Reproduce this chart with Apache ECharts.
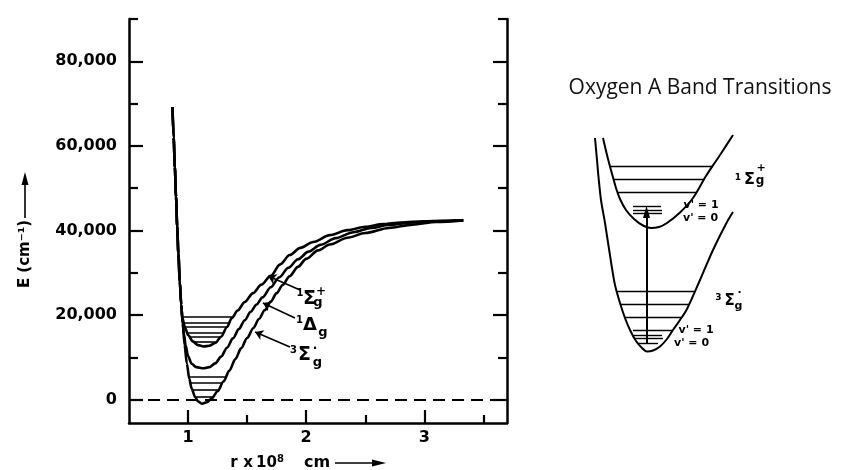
<!DOCTYPE html>
<html>
<head>
<meta charset="utf-8">
<script src="https://cdn.jsdelivr.net/npm/echarts@6/dist/echarts.min.js"></script>
<style>
  html, body { margin: 0; padding: 0; background: #fff; }
  #chart { width: 845px; height: 470px; }
</style>
</head>
<body>
<div id="chart"></div>
<script>
// O2 potential energy curves: r in units of 1e-8 cm, E in cm^-1
const groundState = [ // X 3Σg-
  [0.868, 69200], [0.878, 62000], [0.888, 55000], [0.898, 48000], [0.908, 41000],
  [0.918, 34500], [0.930, 28000], [0.942, 22500], [0.955, 18000], [0.970, 13000],
  [0.990, 8500], [1.010, 5000], [1.030, 2700], [1.060, 600], [1.085, -400],
  [1.116, -940], [1.160, -600], [1.200, 300], [1.250, 2000], [1.300, 4300],
  [1.350, 6900], [1.400, 9600], [1.450, 12200], [1.500, 14600], [1.552, 16900],
  [1.600, 19100], [1.650, 21200], [1.700, 23200], [1.750, 25200], [1.800, 27100],
  [1.860, 29200], [1.930, 31400], [2.000, 33300], [2.100, 35300], [2.200, 36700],
  [2.350, 38300], [2.500, 39400], [2.700, 40600], [2.900, 41400], [3.100, 42000],
  [3.330, 42400]
];
const deltaState = [ // a 1Δg
  [0.868, 69200], [0.878, 62000], [0.888, 55000], [0.898, 48000], [0.908, 41000],
  [0.918, 34500], [0.930, 28000], [0.942, 22500], [0.955, 18000], [0.965, 15500],
  [0.980, 12800], [1.000, 10300], [1.030, 8500], [1.070, 7700], [1.130, 7450],
  [1.180, 7700], [1.230, 8600], [1.280, 10200], [1.330, 12300], [1.380, 14500],
  [1.430, 16700], [1.480, 18800], [1.530, 20800], [1.580, 22500], [1.630, 24200],
  [1.700, 26600], [1.770, 28900], [1.850, 31200], [1.930, 33200], [2.020, 35000],
  [2.120, 36600], [2.250, 38200], [2.400, 39600], [2.550, 40600], [2.700, 41300],
  [2.900, 41900], [3.100, 42200], [3.330, 42400]
];
const sigmaState = [ // b 1Σg+
  [0.868, 69200], [0.878, 62000], [0.888, 55000], [0.898, 48000], [0.908, 41000],
  [0.918, 34500], [0.930, 28000], [0.942, 22500], [0.950, 19500], [0.975, 17000],
  [1.000, 15300], [1.040, 13800], [1.085, 12900], [1.130, 12600], [1.180, 12750],
  [1.230, 13400], [1.280, 14900], [1.330, 17200], [1.370, 19300], [1.420, 21100],
  [1.480, 23100], [1.550, 25200], [1.620, 27200], [1.700, 29300], [1.780, 32000],
  [1.860, 34200], [1.950, 35900], [2.060, 37300], [2.200, 38900], [2.350, 40100],
  [2.500, 40900], [2.650, 41500], [2.800, 41900], [3.000, 42200], [3.150, 42300],
  [3.330, 42400]
];
const groundLevels = [800, 2400, 3900, 5400];
const sigmaLevels = [13800, 14950, 15900, 17150, 18250, 19500];

const xMajorTicks = [1, 2, 3];
const xMinorTicks = [1.5, 2.5, 3.5];
const yMajorTicks = [0, 20000, 40000, 60000, 80000];
const yMinorTicks = [10000, 30000, 50000, 70000, 90000];

// term-symbol pointers: [label end, curve end] as [r, E]
const pointerSigma = [[1.948, 25930], [1.677, 29240]];
const pointerDelta = [[1.905, 19310], [1.634, 22860]];
const pointerGround = [[1.863, 12460], [1.567, 16000]];

// A-band sketch (arbitrary distance / energy units)
const bandUpper = [
  [23, 222], [27, 205], [31.5, 188], [36, 172], [40, 161], [46, 150], [54, 141],
  [63, 134.5], [71, 132], [79, 133], [87, 137], [100, 147.5], [113, 162],
  [126, 184], [140, 205], [153, 225]
];
const bandLower = [
  [15, 222], [17, 200], [18.5, 183], [21, 160], [25, 137], [31.5, 95], [35, 75],
  [40, 57], [45, 42], [50, 30], [56, 19], [62, 12], [67, 8.5], [73, 9.5],
  [80, 13.5], [87, 21], [93, 30], [100, 40], [107, 51], [120, 80], [133, 110],
  [147, 138], [153, 148]
];
const bandUpperLevels = [194, 180.5, 167.5];
const bandLowerLevels = [68.3, 56, 42.7];
const bandUpperShort = [[53, 81, 154], [53, 82, 150], [53, 82, 146.5]];
const bandLowerShort = [[53, 93, 30], [53, 82, 25], [55, 83, 21.7], [58, 78, 16.7]];
const bandTransition = [[66.5, 17], [66.5, 148]];

// where a horizontal level meets the two walls of a well
function chord(curve, level) {
  let iMin = 0;
  curve.forEach((p, i) => { if (p[1] < curve[iMin][1]) iMin = i; });
  const cross = (a, b) => a[0] + (level - a[1]) * (b[0] - a[0]) / (b[1] - a[1]);
  let left = null, right = null;
  for (let i = 0; i < iMin; i++) {
    const a = curve[i], b = curve[i + 1];
    if ((a[1] - level) * (b[1] - level) <= 0) left = cross(a, b);
  }
  for (let i = iMin; i < curve.length - 1; i++) {
    const a = curve[i], b = curve[i + 1];
    if (right === null && (a[1] - level) * (b[1] - level) <= 0) right = cross(a, b);
  }
  return [left, right];
}
const levelLines = (curve, levels) => levels.map(E => {
  const [l, r] = chord(curve, E);
  return [{ coord: [l, E] }, { coord: [r, E] }];
});
const segLines = segs => segs.map(s => [{ coord: [s[0], s[2]] }, { coord: [s[1], s[2]] }]);

const INK = '#000';
const BOLD = 'DejaVu Sans';
const yMin = -5500, yMax = 90000, xMin = 0.5, xMax = 3.7;

function tickAxisY(pos, ticks, len, showLine, showLabel) {
  return {
    type: 'value', gridIndex: 0, position: pos, min: yMin, max: yMax,
    axisLine: { show: showLine, onZero: false, lineStyle: { color: INK, width: 2.5 } },
    axisTick: { show: true, inside: true, length: len, customValues: ticks,
      lineStyle: { color: INK, width: 2.2 } },
    axisLabel: { show: showLabel, customValues: ticks, margin: 12,
      color: INK, fontFamily: BOLD, fontWeight: 'bold', fontSize: 16,
      formatter: v => v.toLocaleString('en-US') },
    splitLine: { show: false }
  };
}
function tickAxisX(ticks, len, showLine, showLabel) {
  return {
    type: 'value', gridIndex: 0, position: 'bottom', min: xMin, max: xMax,
    axisLine: { show: showLine, onZero: false, lineStyle: { color: INK, width: 2.5 } },
    axisTick: { show: true, inside: true, length: len, customValues: ticks,
      lineStyle: { color: INK, width: 2.2 } },
    axisLabel: { show: showLabel, customValues: ticks, margin: 7,
      color: INK, fontFamily: BOLD, fontWeight: 'bold', fontSize: 16 },
    splitLine: { show: false }
  };
}

const curveLine = { color: INK, width: 2.6 };
const plain = { show: false };

const option = {
  animation: false,
  backgroundColor: '#fff',
  grid: [
    { left: 129, top: 19, width: 378, height: 404 },
    { left: 580, top: 130, width: 170, height: 230 }
  ],
  xAxis: [
    tickAxisX(xMajorTicks, 13, true, true),
    tickAxisX(xMinorTicks, 8, false, false),
    { type: 'value', gridIndex: 1, min: 0, max: 170, show: false }
  ],
  yAxis: [
    tickAxisY('left', yMajorTicks, 14, true, true),
    tickAxisY('left', yMinorTicks, 9, false, false),
    tickAxisY('right', yMajorTicks, 14, true, false),
    tickAxisY('right', yMinorTicks, 9, false, false),
    { type: 'value', gridIndex: 1, min: 0, max: 230, show: false }
  ],
  series: [
    {
      name: '3Σg-', type: 'line', xAxisIndex: 0, yAxisIndex: 0, data: groundState,
      showSymbol: false, smooth: 0.3, smoothMonotone: 'x', lineStyle: curveLine, silent: true,
      markLine: {
        silent: true, symbol: ['none', 'none'], label: plain,
        lineStyle: { color: INK, width: 1.6, type: 'solid' },
        data: [[{ coord: [xMin, 0] }, { coord: [xMax, 0],
          lineStyle: { type: [12, 7], width: 2 } }]]
          .concat(levelLines(groundState, groundLevels))
      }
    },
    {
      name: '1Δg', type: 'line', xAxisIndex: 0, yAxisIndex: 0, data: deltaState,
      showSymbol: false, smooth: 0.3, smoothMonotone: 'x', lineStyle: curveLine, silent: true,
      markLine: {
        silent: true, symbol: ['none', 'arrow'], symbolSize: 8, label: plain,
        lineStyle: { color: INK, width: 1.6, type: 'solid' },
        data: [pointerSigma, pointerDelta, pointerGround].map(p =>
          [{ coord: p[0] }, { coord: p[1] }])
      }
    },
    {
      name: '1Σg+', type: 'line', xAxisIndex: 0, yAxisIndex: 0, data: sigmaState,
      showSymbol: false, smooth: 0.3, smoothMonotone: 'x', lineStyle: curveLine, silent: true,
      markLine: {
        silent: true, symbol: ['none', 'none'], label: plain,
        lineStyle: { color: INK, width: 1.6, type: 'solid' },
        data: levelLines(sigmaState, sigmaLevels)
      }
    },
    {
      name: 'upper', type: 'line', xAxisIndex: 2, yAxisIndex: 4, data: bandUpper,
      showSymbol: false, smooth: 0.3, lineStyle: { color: INK, width: 2 }, silent: true,
      markLine: {
        silent: true, symbol: ['none', 'none'], label: plain,
        lineStyle: { color: INK, width: 1.4, type: 'solid' },
        data: levelLines(bandUpper, bandUpperLevels).concat(segLines(bandUpperShort))
      }
    },
    {
      name: 'lower', type: 'line', xAxisIndex: 2, yAxisIndex: 4, data: bandLower,
      showSymbol: false, smooth: 0.3, lineStyle: { color: INK, width: 2 }, silent: true,
      markLine: {
        silent: true, symbol: ['none', 'none'], label: plain,
        lineStyle: { color: INK, width: 1.4, type: 'solid' },
        data: levelLines(bandLower, bandLowerLevels).concat(segLines(bandLowerShort))
          .concat([[{ coord: bandTransition[0] },
            { coord: bandTransition[1], symbol: 'triangle', symbolSize: [7, 12], symbolRotate: 0,
              lineStyle: { width: 2 } }]])
      }
    }
  ],
  graphic: []
};

// text pieces: [text, centre x, centre y, size]
const termPieces = [
  ['1', 300, 293.5, 10], ['Σ', 309.5, 299.5, 19], ['+', 321, 292, 12], ['g', 318, 302.5, 13],
  ['1', 299.5, 320, 10], ['Δ', 310, 325.5, 18], ['g', 323, 332.5, 13],
  ['3', 293.5, 350, 10], ['Σ', 304.5, 355.5, 19], ['·', 315, 348.5, 12], ['g', 317.5, 363, 13],
  ['1', 738, 177.5, 9], ['Σ', 749.5, 180, 16], ['+', 761, 168.5, 11], ['g', 760, 181, 12],
  ['3', 718.5, 297.5, 9], ['Σ', 729.5, 301, 15], ['·', 739.5, 293.5, 11], ['g', 738.5, 306, 11],
  ["v' = 1", 701, 205, 11], ["v' = 0", 700.5, 218, 11],
  ["v' = 1", 696, 330, 11], ["v' = 0", 691.5, 343, 11],
  // distance axis name
  ['r', 234, 463, 15], ['x', 248, 463, 15], ['10', 266.5, 463, 15], ['8', 280.5, 459, 10],
  ['cm', 317, 463, 16]
];
termPieces.forEach(p => option.graphic.push({
  type: 'text', x: p[1], y: p[2], silent: true,
  style: { text: p[0], fill: INK, font: 'bold ' + p[3] + 'px "' + BOLD + '"',
    textAlign: 'center', textVerticalAlign: 'middle' }
}));

// axis-name arrows, energy axis name and the sketch title
option.graphic.push(
  { type: 'line', silent: true, shape: { x1: 335, y1: 463, x2: 375, y2: 463 },
    style: { stroke: INK, lineWidth: 1.6 } },
  { type: 'polygon', silent: true, shape: { points: [[386, 463], [372, 459.5], [372, 466.5]] },
    style: { fill: INK } },
  { type: 'text', x: 25, y: 254, rotation: Math.PI / 2, silent: true,
    style: { text: 'E (cm⁻¹)', fill: INK, font: 'bold 15px "' + BOLD + '"',
      textAlign: 'center', textVerticalAlign: 'middle' } },
  { type: 'line', silent: true, shape: { x1: 25, y1: 218, x2: 25, y2: 182 },
    style: { stroke: INK, lineWidth: 1.6 } },
  { type: 'polygon', silent: true, shape: { points: [[25, 172], [21.5, 185], [28.5, 185]] },
    style: { fill: INK } },
  { type: 'text', x: 700, y: 88, silent: true,
    style: { text: 'Oxygen A Band Transitions', fill: '#111', font: '21px "Open Sans"',
      textAlign: 'center', textVerticalAlign: 'middle' } }
);

const chart = echarts.init(document.getElementById('chart'), null, { renderer: 'canvas' });
chart.setOption(option);
</script>
</body>
</html>
